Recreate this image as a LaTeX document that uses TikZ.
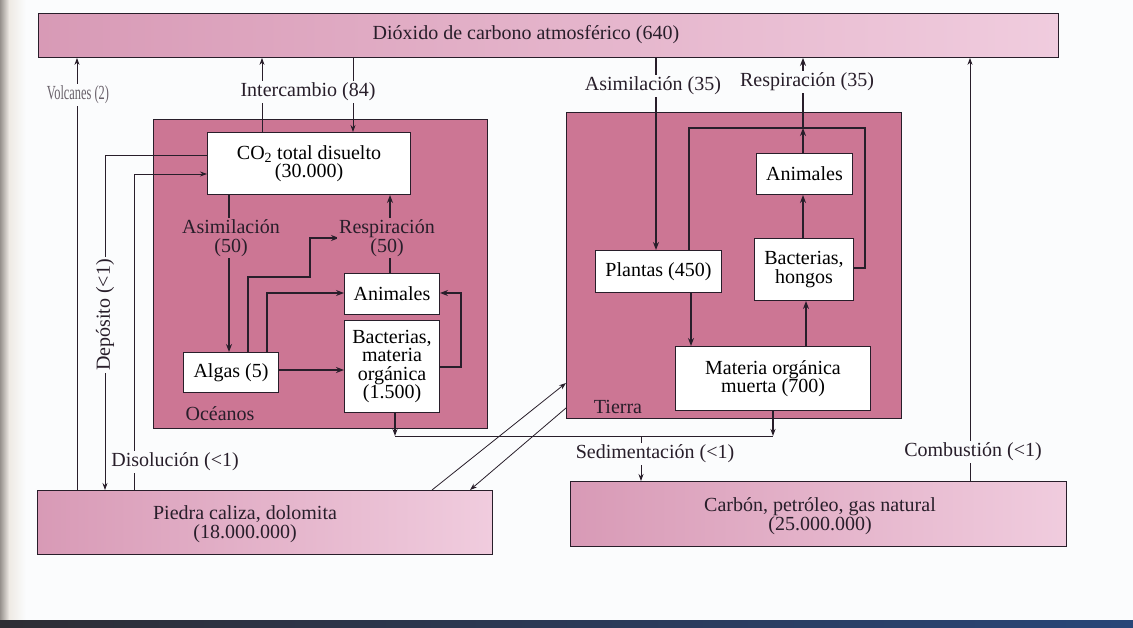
\documentclass[tikz,border=0pt]{standalone}
\usepackage{fontspec}
\usepackage{graphicx}
\setmainfont{Liberation Serif}
\usetikzlibrary{arrows.meta,calc}
\definecolor{paper}{RGB}{251,252,253}
\definecolor{ink}{RGB}{40,30,42}
\definecolor{bandL}{RGB}{216,154,182}
\definecolor{bandR}{RGB}{240,204,222}
\definecolor{mauve}{RGB}{204,118,148}
\definecolor{spine}{RGB}{150,145,140}
\definecolor{cream}{RGB}{238,234,228}
\definecolor{barL}{RGB}{45,45,52}
\definecolor{barR}{RGB}{40,70,120}
\newcommand{\txt}{\fontsize{20}{18.5}\selectfont}
\begin{document}
\begin{tikzpicture}[x=1pt,y=-1pt,
  band/.style={draw=ink, line width=0.9pt, left color=bandL, right color=bandR,
    anchor=north west, inner sep=0pt},
  region/.style={draw=ink, line width=0.9pt, fill=mauve, anchor=north west, inner sep=0pt},
  box/.style={draw=ink, line width=1pt, fill=white, align=center, inner sep=0pt,
    anchor=north west, font=\txt},
  lbl/.style={fill=paper, inner sep=2pt, font=\txt, align=center, text=ink},
  plbl/.style={fill=mauve, inner sep=2pt, font=\txt, align=center, text=ink},
  plain/.style={inner sep=0pt, font=\txt, align=center, text=ink},
  thin/.style={draw=ink, line width=0.8pt},
  mid/.style={draw=ink, line width=1.2pt},
  thick/.style={draw=ink, line width=1.8pt},
  arr/.style={-{Stealth[length=8pt,width=6pt]}},
  sarr/.style={-{Stealth[length=7pt,width=5pt]}}]
\useasboundingbox (0,0) rectangle (1133,628);
\fill[paper] (0,0) rectangle (1133,628);
% page edge near the binding and the dark strip along the foot
\shade[left color=spine, right color=cream] (0,0) rectangle (9,628);
\shade[left color=cream, right color=paper] (9,0) rectangle (26,628);
\shade[left color=barL, right color=barR] (0,620) rectangle (1133,628);

% reservoirs
\node[band, minimum width=1020pt, minimum height=44pt] (atm) at (38,13) {};
\node[band, minimum width=455pt, minimum height=64pt] (piedra) at (37,490) {};
\node[band, minimum width=496pt, minimum height=65pt] (carbon) at (570,481) {};
\node[region, minimum width=334pt, minimum height=309pt] (ocean) at (153,119) {};
\node[region, minimum width=335pt, minimum height=306pt] (land) at (566,112) {};

\node[plain] (atmtxt) at (526,35) {Dióxido de carbono atmosférico (640)};
\node[plain] (piedratxt) at (245,524) {Piedra caliza, dolomita\\(18.000.000)};
\node[plain] (carbontxt) at (820,516) {Carbón, petróleo, gas natural\\(25.000.000)};
\node[plain] (oceantxt) at (220,414) {Océanos};
\node[plain] (landtxt) at (618,407) {Tierra};

% ocean compartments
\node[box, minimum width=203pt, minimum height=62pt] (co2) at (207,132) {CO\textsubscript{2} total disuelto\\(30.000)};
\node[box, minimum width=95pt, minimum height=40pt] (algas) at (183,352) {Algas (5)};
\node[box, minimum width=95pt, minimum height=41pt] (anio) at (344,273) {Animales};
\node[box, minimum width=95pt, minimum height=92pt] (bacto) at (344,320) {Bacterias,\\materia\\orgánica\\(1.500)};

% land compartments
\node[box, minimum width=126pt, minimum height=42pt] (plantas) at (595,250) {Plantas (450)};
\node[box, minimum width=96pt, minimum height=41pt] (anit) at (756,153) {Animales};
\node[box, minimum width=99pt, minimum height=62pt] (bactt) at (754,238) {Bacterias,\\hongos};
\node[box, minimum width=195pt, minimum height=64pt] (materia) at (675,346) {Materia orgánica\\muerta (700)};

% helper coordinates for routing
\coordinate (vx) at (77,0);
\coordinate (ix1) at (262,0);
\coordinate (ix2) at (353,0);
\coordinate (dep) at (105,155);
\coordinate (dis) at (134,174);
\coordinate (as50) at (229,0);
\coordinate (rs50) at (390,0);
\coordinate (ar1) at (248,277);
\coordinate (ar2) at (310,238);
\coordinate (aa1) at (267,293);
\coordinate (ab) at (0,370);
\coordinate (ba1) at (461,367);
\coordinate (ba2) at (461,293);
\coordinate (sx1) at (395,436);
\coordinate (sx2) at (773,436);
\coordinate (sx3) at (641,436);
\coordinate (dg1) at (432,0);
\coordinate (dg2) at (0,383);
\coordinate (dg3) at (0,408);
\coordinate (dg4) at (470,0);
\coordinate (cb) at (970,0);
\coordinate (a35) at (656,0);
\coordinate (lp1) at (689,128);
\coordinate (lp2) at (865,268);
\coordinate (r35) at (803,128);
\coordinate (pm) at (691,0);
\coordinate (mb) at (806,0);
\coordinate (rsl) at (339,0);

% exchanges with the atmosphere and rocks
\draw[thin,sarr] (piedra.north -| vx) -- (atm.south -| vx);
\draw[thin,sarr] (co2.north -| ix1) -- (atm.south -| ix1);
\draw[thin,sarr] (atm.south -| ix2) -- (co2.north -| ix2);
\draw[thin,sarr] (co2.west |- dep) -- (dep) -- (piedra.north -| dep);
\draw[thin,sarr] (piedra.north -| dis) -- (dis) -- (co2.west |- dis);
\draw[thin,sarr] (piedra.north -| dg1) -- (land.west |- dg2);
\draw[thin,sarr] (land.west |- dg3) -- (piedra.north -| dg4);
\draw[thin,sarr] (carbon.north -| cb) -- (atm.south -| cb);

% ocean cycle
\draw[thick,arr] (co2.south -| as50) -- (algas.north -| as50);
\draw[mid,arr] (anio.north -| rs50) -- (co2.south -| rs50);
\draw[mid,arr] (algas.north -| ar1) -- (ar1) -| (ar2) -- (ar2 -| rsl);
\draw[mid,arr] (algas.north -| aa1) -- (aa1) -- (anio.west |- aa1);
\draw[thick,arr] (algas.east |- ab) -- (bacto.west |- ab);
\draw[mid,arr] (bacto.east |- ba1) -- (ba1) -- (ba2) -- (anio.east |- ba2);

% sedimentation
\draw[mid,sarr] (bacto.south -| sx1) -- (sx1);
\draw[mid,sarr] (materia.south -| sx2) -- (sx2);
\draw[thin] (sx1) -- (sx2);
\draw[thin,sarr] (sx3) -- (carbon.north -| sx3);

% land cycle
\draw[thick,arr] (atm.south -| a35) -- (plantas.north -| a35);
\draw[thick] (plantas.north -| lp1) -- (lp1) -| (lp2) -- (bactt.east |- lp2);
\draw[thick,arr] (r35) -- (atm.south -| r35);
\draw[thick,arr] (anit.north -| r35) -- (r35);
\draw[thick,arr] (bactt.north -| r35) -- (anit.south -| r35);
\draw[thick,arr] (plantas.south -| pm) -- (materia.north -| pm);
\draw[thick,arr] (materia.north -| mb) -- (bactt.south -| mb);

% flux labels
\node[lbl, text=ink!70] (volc) at (78,95) {\scalebox{0.62}[1]{Volcanes (2)}};
\node[lbl] (interc) at (308,92) {Intercambio (84)};
\node[lbl, rotate=90] (depo) at (105,315) {Depósito (<1)};
\node[lbl] (disol) at (175,462) {Disolución (<1)};
\node[plbl] (asim50) at (231,238) {Asimilación\\(50)};
\node[plbl] (resp50) at (387,238) {Respiración\\(50)};
\node[lbl] (asim35) at (653,86) {Asimilación (35)};
\node[lbl] (resp35) at (807,82) {Respiración (35)};
\node[lbl] (sedim) at (655,454) {Sedimentación (<1)};
\node[lbl] (combu) at (973,452) {Combustión (<1)};
\end{tikzpicture}
\end{document}
